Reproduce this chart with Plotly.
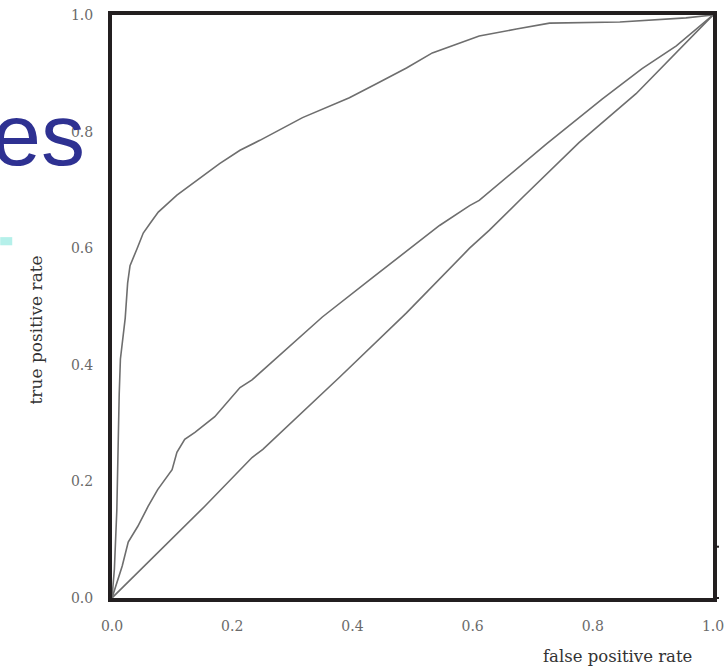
import plotly.graph_objects as go

# ROC curves
fpr_good = [0, 0.004, 0.008, 0.010, 0.012, 0.014, 0.019, 0.022, 0.026, 0.030, 0.042, 0.052,
            0.065, 0.077, 0.108, 0.147, 0.179, 0.213, 0.246, 0.317, 0.395, 0.440, 0.490,
            0.533, 0.595, 0.611, 0.673, 0.728, 0.845, 0.955, 1.0]
tpr_good = [0, 0.05, 0.15, 0.26, 0.35, 0.41, 0.45, 0.48, 0.54, 0.57, 0.60, 0.626,
            0.645, 0.662, 0.691, 0.721, 0.745, 0.768, 0.785, 0.824, 0.858, 0.882, 0.909,
            0.935, 0.959, 0.964, 0.976, 0.986, 0.988, 0.995, 1.0]

fpr_mid = [0, 0.017, 0.027, 0.043, 0.060, 0.076, 0.100, 0.108, 0.121, 0.138, 0.171, 0.213,
           0.233, 0.350, 0.434, 0.545, 0.595, 0.611, 0.723, 0.816, 0.882, 0.939, 1.0]
tpr_mid = [0, 0.055, 0.096, 0.123, 0.157, 0.186, 0.220, 0.250, 0.272, 0.284, 0.311, 0.361,
           0.374, 0.482, 0.550, 0.639, 0.673, 0.682, 0.779, 0.856, 0.908, 0.947, 1.0]

fpr_rand = [0, 0.043, 0.100, 0.154, 0.233, 0.251, 0.379, 0.490, 0.595, 0.628, 0.683,
            0.777, 0.872, 0.939, 1.0]
tpr_rand = [0, 0.044, 0.101, 0.157, 0.241, 0.255, 0.379, 0.489, 0.600, 0.631, 0.687,
            0.781, 0.865, 0.935, 1.0]

tick_vals = [0, 0.2, 0.4, 0.6, 0.8, 1.0]
tick_text = ["0.0", "0.2", "0.4", "0.6", "0.8", "1.0"]

line_style = dict(color="#6e6e6e", width=1.6)
tick_font = dict(family="DejaVu Serif", size=14, color="#6a6a6a")
frame = "#231f20"

fig = go.Figure()
for xs, ys in [(fpr_good, tpr_good), (fpr_mid, tpr_mid), (fpr_rand, tpr_rand)]:
    fig.add_trace(go.Scatter(x=xs, y=ys, mode="lines", line=line_style,
                             showlegend=False, hoverinfo="skip"))

axis_common = dict(range=[0, 1], tickvals=tick_vals, ticktext=tick_text,
                   showgrid=False, zeroline=False, showline=True, mirror=True,
                   linewidth=4, linecolor=frame, ticks="", tickfont=tick_font,
                   automargin=False)

fig.update_layout(
    width=727, height=669,
    margin=dict(l=112, r=14, t=15, b=71),
    paper_bgcolor="white", plot_bgcolor="white",
    xaxis=dict(**axis_common, ticklabelstandoff=12),
    yaxis=dict(**axis_common, ticklabelstandoff=12),
)

# axis titles placed like the original scan
fig.add_annotation(text="false positive rate", xref="paper", yref="paper",
                   x=0.968, y=-0.08, xanchor="right", yanchor="top", showarrow=False,
                   font=dict(family="DejaVu Serif", size=16.5, color="#333333"))
fig.add_annotation(text="true positive rate", xref="paper", yref="paper",
                   x=-0.147, y=0.46, textangle=-90, showarrow=False,
                   font=dict(family="DejaVu Serif", size=17, color="#333333"))

# slide leftovers: part of a title and a bullet
fig.add_annotation(text="es", xref="paper", yref="paper",
                   x=-0.042, y=0.795, xanchor="right", yanchor="middle", showarrow=False,
                   font=dict(family="Liberation Sans", size=88, color="#2e3192"))
fig.add_shape(type="rect", xref="paper", yref="paper",
              x0=-0.186, x1=-0.166, y0=0.605, y1=0.619,
              line_width=0, fillcolor="#b5f0ea")

# small stubs on the right edge
for yv in [0.088, 0.0]:
    fig.add_shape(type="line", xref="paper", yref="paper",
                  x0=1.0, x1=1.01, y0=yv, y1=yv, line=dict(color=frame, width=2))

fig.write_html("out.html", config={"displayModeBar": False},
               post_script="document.body.style.margin='0';")
